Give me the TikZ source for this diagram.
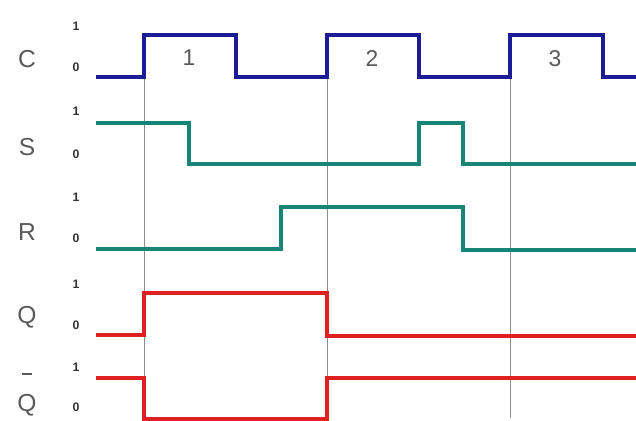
\documentclass[tikz,border=0pt]{standalone}
\usepackage{fontspec}
\setmainfont{Liberation Sans}
\usetikzlibrary{positioning}
\definecolor{clkblue}{RGB}{28,28,150}
\definecolor{inteal}{RGB}{24,132,118}
\definecolor{outred}{RGB}{222,32,32}

\begin{document}
\begin{tikzpicture}[x=0.02cm,y=-0.02cm,
    wave/.style={line width=2pt,line join=miter},
    signame/.style={text=black!65,font=\fontsize{14}{16}\selectfont},
    lvl/.style={text=black!80,font=\fontsize{7}{8}\selectfont\bfseries},
    tick/.style={text=black!65,font=\fontsize{13}{15}\selectfont}]
    \useasboundingbox (0,0) rectangle (636,421);
    % clock edges
    \foreach \x in {144,327,510}
      \draw[black!45,line width=0.5pt] (\x,78) -- (\x,418);
    % signal names
    \node[signame] (C) at (27,59) {C};
    \node[signame] (S) at (27,147) {S};
    \node[signame] (R) at (27,232) {R};
    \node[signame] (Q) at (27,317) {Q};
    \node[signame,align=center] (Qn) at (27,395) {\rule{6pt}{1pt}\\[5pt]Q};
    % levels
    \foreach \n/\y/\t in {c1/26/1,c0/67/0,s1/111/1,s0/154/0,r1/197/1,r0/238/0,
                          q1/284/1,q0/325/0,n1/367/1,n0/407/0}
      \node[lvl] (\n) at (76,\y) {\t};
    % clock numbers
    \node[tick] (t1) at (189,58) {1};
    \node[tick] (t2) at (372,59) {2};
    \node[tick] (t3) at (555,59) {3};
    % waveforms
    \draw[wave,clkblue] (96,77) -- (144,77) -- (144,35) -- (236,35) -- (236,77)
      -- (327,77) -- (327,35) -- (419,35) -- (419,77) -- (510,77) -- (510,35)
      -- (603,35) -- (603,77) -- (636,77);
    \draw[wave,inteal] (96,123) -- (189,123) -- (189,164) -- (419,164)
      -- (419,123) -- (463,123) -- (463,164) -- (636,164);
    \draw[wave,inteal] (96,249) -- (281,249) -- (281,207) -- (463,207)
      -- (463,250) -- (636,250);
    \draw[wave,outred] (96,335) -- (144,335) -- (144,293) -- (327,293)
      -- (327,336) -- (636,336);
    \draw[wave,outred] (96,378) -- (144,378) -- (144,419) -- (327,419)
      -- (327,378) -- (636,378);
\end{tikzpicture}
\end{document}
